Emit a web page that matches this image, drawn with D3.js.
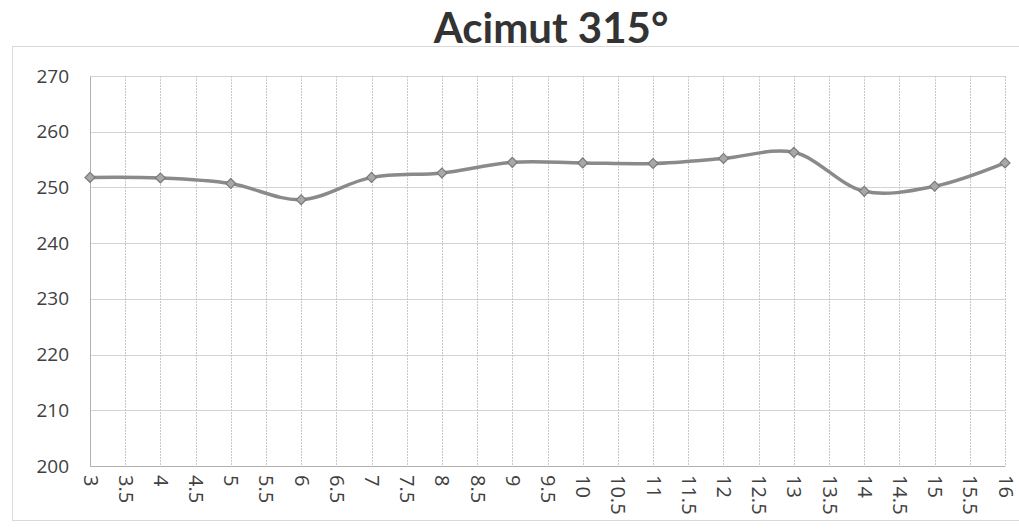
<!DOCTYPE html>
<html>
<head>
<meta charset="utf-8">
<script src="https://cdn.jsdelivr.net/npm/d3@7"></script>
<style>
  html, body { margin: 0; padding: 0; background: #ffffff; }
  svg { display: block; }
</style>
</head>
<body>
<svg id="chart" width="1019" height="532"></svg>
<script>
const title = "Acimut 315°";
const categories = ["3","3.5","4","4.5","5","5.5","6","6.5","7","7.5","8","8.5","9","9.5","10","10.5","11","11.5","12","12.5","13","13.5","14","14.5","15","15.5","16"];
const pointCategories = ["3","4","5","6","7","8","9","10","11","12","13","14","15","16"];
const pointValues = [251.8, 251.7, 250.7, 247.8, 251.8, 252.6, 254.5, 254.4, 254.3, 255.2, 256.3, 249.3, 250.2, 254.4];
const yTicks = [200, 210, 220, 230, 240, 250, 260, 270];

const W = 1019, H = 532;
const margin = { left: 90, right: 14, top: 76, bottom: 66 };
const svg = d3.select("#chart");

// outer chart border
svg.append("rect")
  .attr("x", 12.5).attr("y", 46.5)
  .attr("width", W - 12).attr("height", 474)
  .attr("fill", "none").attr("stroke", "#d9d9d9").attr("stroke-width", 1);

const x = d3.scalePoint().domain(categories).range([margin.left, W - margin.right]).padding(0);
const y = d3.scaleLinear().domain([200, 270]).range([H - margin.bottom, margin.top]);

// gridlines
const g = svg.append("g");
g.selectAll("line.h").data(yTicks).join("line")
  .attr("class", "h")
  .attr("x1", margin.left).attr("x2", W - margin.right)
  .attr("y1", d => Math.round(y(d)) + 0.5).attr("y2", d => Math.round(y(d)) + 0.5)
  .attr("stroke", "#d4d4d4").attr("stroke-width", 1);
g.selectAll("line.v").data(categories).join("line")
  .attr("class", "v")
  .attr("x1", d => Math.round(x(d)) + 0.5).attr("x2", d => Math.round(x(d)) + 0.5)
  .attr("y1", margin.top).attr("y2", H - margin.bottom)
  .attr("stroke", "#c8c8c8").attr("stroke-width", 1).attr("stroke-dasharray", "2,1");

// y axis
const yAxis = svg.append("g")
  .attr("transform", `translate(${margin.left},0)`)
  .call(d3.axisLeft(y).tickValues(yTicks).tickSize(0).tickPadding(21));
yAxis.select(".domain").attr("stroke", "#b0b0b0");
yAxis.selectAll("text")
  .attr("font-family", "'Open Sans', 'Noto Sans', sans-serif")
  .attr("font-size", 19).attr("fill", "#404040");

// x axis
const xAxis = svg.append("g")
  .attr("transform", `translate(0,${H - margin.bottom})`)
  .call(d3.axisBottom(x).tickSize(0));
xAxis.select(".domain").attr("stroke", "#b0b0b0");
xAxis.selectAll("text")
  .attr("font-family", "'Open Sans', 'Noto Sans', sans-serif")
  .attr("font-size", 20).attr("fill", "#404040")
  .attr("transform", "rotate(90)")
  .attr("text-anchor", "start")
  .attr("dy", "0.35em")
  .attr("x", 9).attr("y", 0);

// line
const pts = pointCategories.map((c, i) => ({ c, v: pointValues[i] }));
const line = d3.line().x(d => x(d.c)).y(d => y(d.v)).curve(d3.curveCatmullRom.alpha(0.5));
svg.append("path").datum(pts)
  .attr("d", line)
  .attr("fill", "none").attr("stroke", "#8a8a8a").attr("stroke-width", 3.5);

// diamond markers
svg.selectAll("path.m").data(pts).join("path")
  .attr("class", "m")
  .attr("transform", d => `translate(${x(d.c)},${y(d.v)}) rotate(45)`)
  .attr("d", "M-3.5,-3.5H3.5V3.5H-3.5Z")
  .attr("fill", "#a8a8a8").attr("stroke", "#7a7a7a").attr("stroke-width", 1.2);

// title
svg.append("text")
  .attr("x", 551).attr("y", 43)
  .attr("text-anchor", "middle")
  .attr("font-family", "Lato, 'Open Sans', sans-serif")
  .attr("font-weight", "bold")
  .attr("font-size", 42)
  .attr("fill", "#333333")
  .text(title);
</script>
</body>
</html>
